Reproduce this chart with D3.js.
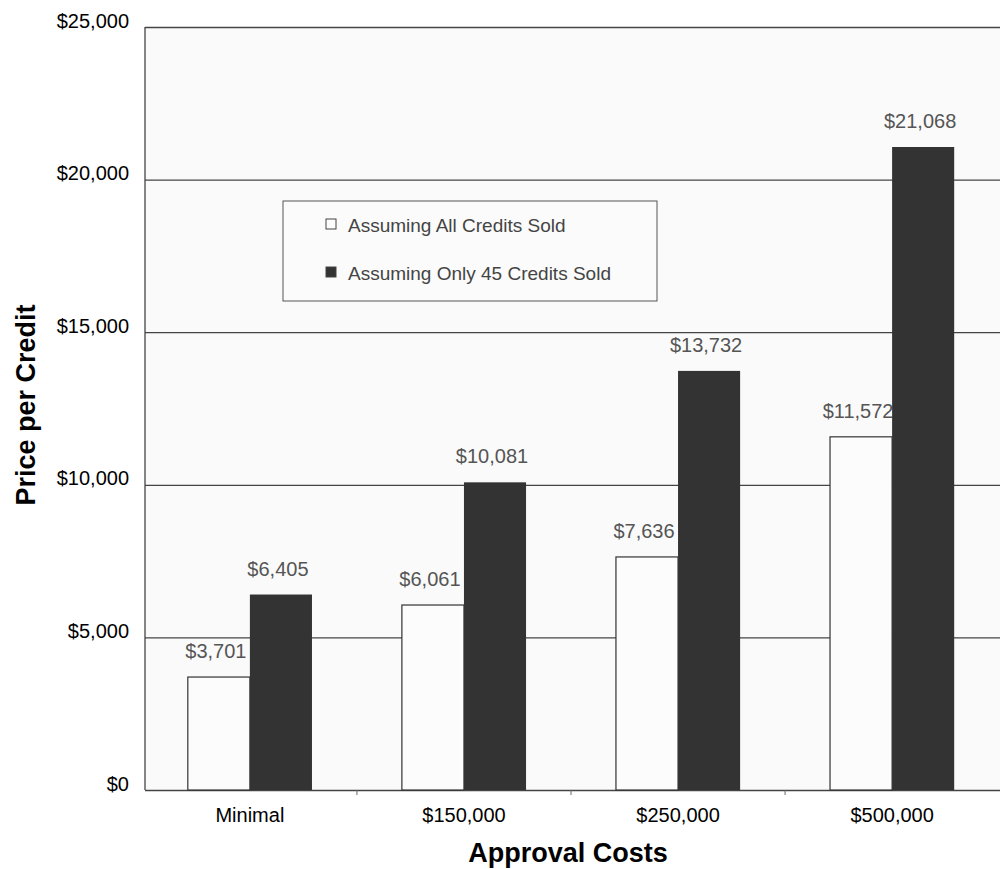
<!DOCTYPE html>
<html>
<head>
<meta charset="utf-8">
<script src="https://cdn.jsdelivr.net/npm/d3@7"></script>
<style>
  body { margin: 0; background: #fff; }
  text { font-family: "Liberation Sans", Arial, sans-serif; }
</style>
</head>
<body>
<div id="chart"></div>
<script>
const categories = ["Minimal", "$150,000", "$250,000", "$500,000"];
const seriesNames = ["Assuming All Credits Sold", "Assuming Only 45 Credits Sold"];
const allSold = [3701, 6061, 7636, 11572];
const only45Sold = [6405, 10081, 13732, 21068];
const yTicks = [0, 5000, 10000, 15000, 20000, 25000];

const svg = d3.select("#chart").append("svg").attr("width", 1000).attr("height", 869);
const margins = { top: 27, right: 3, left: 145, bottom: 79 };
const width = 1000, height = 869;
const chartWidth = width - margins.left - margins.right;
const chartHeight = height - margins.top - margins.bottom;

const chartArea = svg.append("g").attr("transform", `translate(${margins.left},${margins.top})`);

const x = d3.scaleBand().domain(categories).range([0, chartWidth]).paddingInner(0.42).paddingOuter(0.2);
const xSub = d3.scaleBand().domain([0, 1]).range([0, x.bandwidth()]);
const y = d3.scaleLinear().domain([0, 25000]).range([chartHeight, 0]);
const fmt = d3.format("$,");

// plot background
chartArea.append("rect")
  .attr("width", chartWidth + 3).attr("height", chartHeight)
  .style("fill", "#fafafa");

// gridlines
const grid = d3.axisLeft(y).tickValues(yTicks).tickSize(-chartWidth - 3).tickFormat("");
chartArea.append("g").attr("class", "grid").call(grid)
  .call(g => g.select(".domain").remove())
  .call(g => g.selectAll("line").attr("stroke", "#444").attr("stroke-width", 1.3));

// left axis line
chartArea.append("line").attr("x1", 0).attr("x2", 0).attr("y1", 0).attr("y2", chartHeight)
  .attr("stroke", "#444").attr("stroke-width", 1.3);

// y tick labels
const leftAxis = d3.axisLeft(y).tickValues(yTicks).tickSize(0).tickPadding(16).tickFormat(fmt);
chartArea.append("g").call(leftAxis)
  .call(g => g.select(".domain").remove())
  .call(g => g.selectAll("text").attr("font-size", 20).attr("fill", "#000").attr("dy", "0em"));

// x axis
const bottomAxis = d3.axisBottom(x).tickSize(0).tickPadding(18);
chartArea.append("g").attr("transform", `translate(0,${chartHeight})`).call(bottomAxis)
  .call(g => g.select(".domain").remove())
  .call(g => g.selectAll("text").attr("font-size", 20).attr("fill", "#000"));

// small ticks between categories
chartArea.selectAll(".sep").data(categories.slice(1)).enter().append("line")
  .attr("x1", d => x(d) - x.step() * x.paddingInner() / 2)
  .attr("x2", d => x(d) - x.step() * x.paddingInner() / 2)
  .attr("y1", chartHeight).attr("y2", chartHeight + 5)
  .attr("stroke", "#666");

// bars
const series = [allSold, only45Sold];
const fills = ["#fcfcfc", "#333333"];
series.forEach((vals, si) => {
  chartArea.selectAll(".bar" + si).data(vals).enter().append("rect")
    .attr("x", (d, i) => x(categories[i]) + xSub(si))
    .attr("y", d => y(d))
    .attr("width", xSub.bandwidth())
    .attr("height", d => chartHeight - y(d))
    .style("fill", fills[si])
    .style("stroke", si === 0 ? "#333" : "none")
    .style("stroke-width", 1.2);
  chartArea.selectAll(".lab" + si).data(vals).enter().append("text")
    .attr("x", (d, i) => x(categories[i]) + xSub(si) + xSub.bandwidth() / 2 - 3)
    .attr("y", d => y(d) - 19)
    .attr("text-anchor", "middle")
    .attr("font-size", 20)
    .attr("fill", "#555")
    .text(d => fmt(d));
});

// axis titles
svg.append("text")
  .attr("transform", "translate(35,405) rotate(-90)")
  .attr("text-anchor", "middle")
  .attr("font-size", 27).attr("font-weight", "bold")
  .text("Price per Credit");
svg.append("text")
  .attr("x", 568).attr("y", 862)
  .attr("text-anchor", "middle")
  .attr("font-size", 27).attr("font-weight", "bold")
  .text("Approval Costs");

// legend
const legend = svg.append("g").attr("transform", "translate(283,201)");
legend.append("rect").attr("width", 374).attr("height", 100)
  .style("fill", "#fbfbfb").style("stroke", "#555").style("stroke-width", 1);
seriesNames.forEach((name, i) => {
  legend.append("rect")
    .attr("x", 43).attr("y", 18 + i * 48)
    .attr("width", 10).attr("height", 10)
    .style("fill", fills[i]).style("stroke", "#444");
  legend.append("text")
    .attr("x", 65).attr("y", 31 + i * 48)
    .attr("font-size", 19).attr("fill", "#444")
    .text(name);
});
</script>
</body>
</html>
